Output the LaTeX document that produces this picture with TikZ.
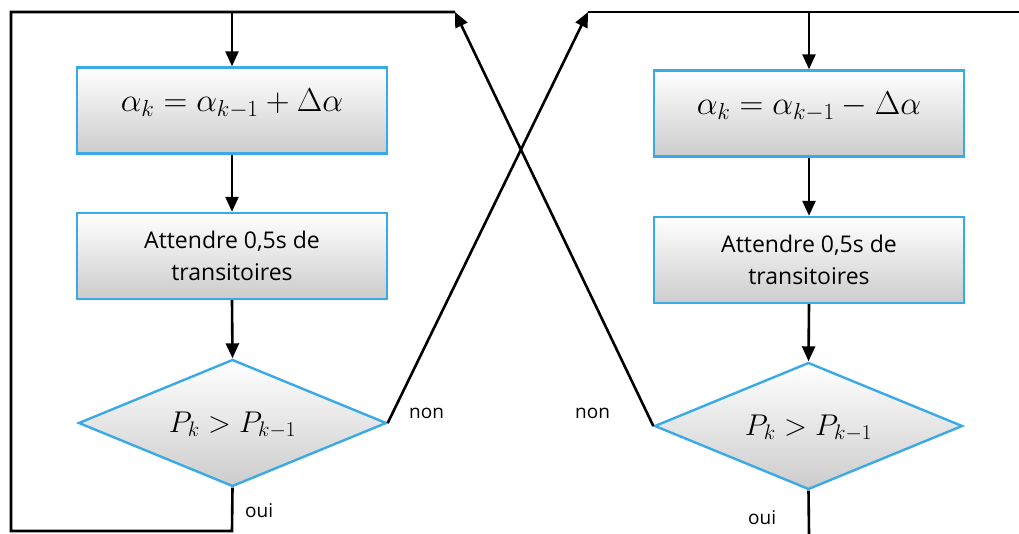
\RequirePackage{fix-cm}
\documentclass[tikz,border=0pt]{standalone}
\usepackage{fontspec}
\setmainfont{Open Sans}
\usetikzlibrary{shapes.geometric,arrows.meta}
\definecolor{bblue}{HTML}{3AAAE6}
\newcommand{\dtext}[1]{\makebox[0pt]{\raisebox{-9pt}[0pt][0pt]{#1}}}
\tikzset{
  every picture/.style={x=1pt,y=-1pt},
  procbox/.style={draw=bblue,line width=2.4pt,top color=white,bottom color=black!20,
    minimum width=310pt,minimum height=86pt,inner sep=0pt,align=center,font=\fontsize{23}{32}\selectfont},
  mathbox/.style={procbox,font=\fontsize{33}{36}\selectfont},
  testbox/.style={diamond,draw=bblue,line width=2.4pt,top color=white,bottom color=black!20,
    minimum width=308pt,minimum height=127pt,inner sep=0pt,font=\fontsize{30}{34}\selectfont},
  conn/.style={line width=2.6pt,black},
  arr/.style={conn,-{Triangle[length=15pt,width=13pt]}},
  lbl/.style={font=\fontsize{19}{22}\selectfont,inner sep=0pt}
}
\begin{document}
\begin{tikzpicture}
\useasboundingbox (0,0) rectangle (1019,534);
\node[mathbox] (b1) at (232,110.5) {\raisebox{20pt}{$\alpha_k=\alpha_{k-1}+\Delta\alpha$}};
\node[procbox] (b2) at (232,256) {Attendre 0,5s de\\transitoires};
\node[testbox] (d1) at (232.5,423) {\dtext{$P_k>P_{k-1}$}};
\node[mathbox] (b3) at (809,113.5) {\raisebox{20pt}{$\alpha_k=\alpha_{k-1}-\Delta\alpha$}};
\node[procbox] (b4) at (809,260) {Attendre 0,5s de\\transitoires};
\node[testbox] (d2) at (808.5,426) {\dtext{$P_k>P_{k-1}$}};
\coordinate (lb) at (232,531);
\coordinate (lbl) at (11,531);
\coordinate (ltl) at (11,12);
\coordinate (ltop) at (232,12);
\coordinate (lt) at (455,12);
\coordinate (rt) at (588,12);
\coordinate (rtop) at (809,12);
\coordinate (rtr) at (1019,12);
\coordinate (rb) at (809,534);
\draw[conn] (d1.south) -- (lb) -- (lbl) -- (ltl) -- (lt);
\draw[arr] (ltop) -- (b1.north);
\draw[arr] (b1.south) -- (b2.north);
\draw[arr] (b2.south) -- (d1.north);
\draw[arr] (d1.east) -- (rt);
\draw[conn] (rt) -- (rtr);
\draw[arr] (rtop) -- (b3.north);
\draw[arr] (b3.south) -- (b4.north);
\draw[arr] (b4.south) -- (d2.north);
\draw[arr] (d2.west) -- (lt);
\draw[conn] (d2.south) -- (rb);
\node[lbl,anchor=west] (n1) at (409,413) {non};
\node[lbl,anchor=west] (n2) at (575,413) {non};
\node[lbl,anchor=west] (o1) at (245,511) {oui};
\node[lbl,anchor=west] (o2) at (748,518) {oui};
\end{tikzpicture}
\end{document}
